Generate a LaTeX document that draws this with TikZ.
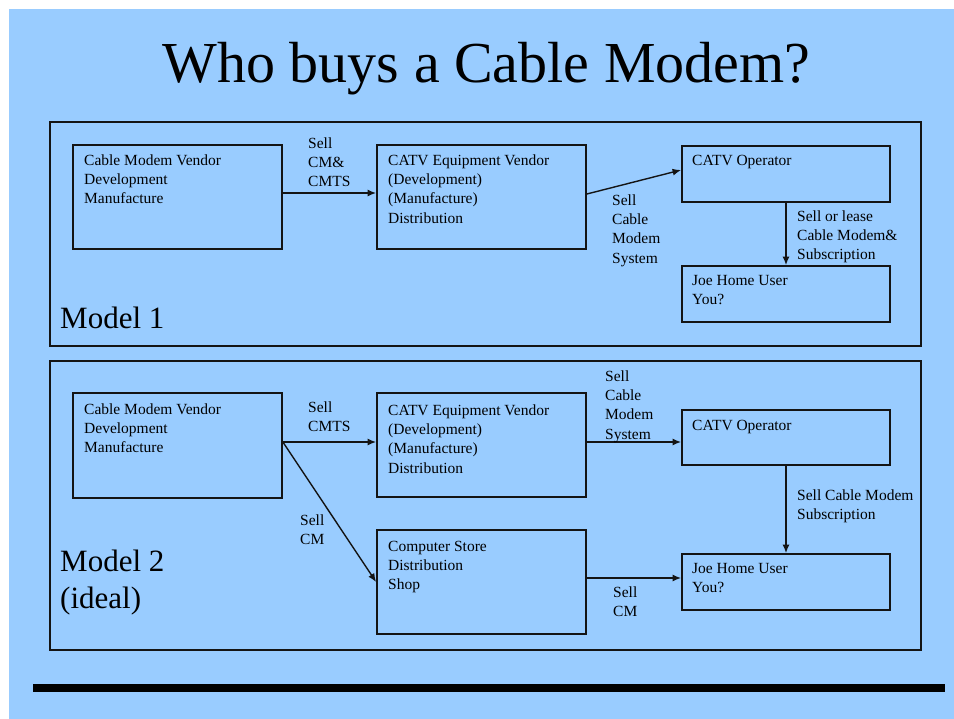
\documentclass[tikz,border=0pt]{standalone}
\usepackage{fontspec}
\setmainfont{Liberation Serif}
\usetikzlibrary{arrows.meta}
\definecolor{bgblue}{RGB}{153,204,255}
\definecolor{ink}{RGB}{20,20,20}
\begin{document}
\begin{tikzpicture}[x=1pt,y=-1pt,
  outerbox/.style={draw=ink,line width=1.8pt,inner sep=0pt},
  stepbox/.style={draw=ink,line width=1.8pt,inner sep=0pt},
  txt/.style={anchor=north west,inner sep=0pt,align=left,text=black,
    font=\fontsize{15.5}{19.3}\selectfont},
  conn/.style={draw=ink,line width=1.4pt,-{Latex[length=8.5pt,width=7pt]}},
  big/.style={inner sep=0pt,text=black,font=\fontsize{31}{37}\selectfont}]
\useasboundingbox (0,0) rectangle (954,719);
\fill[white] (0,0) rectangle (954,719);
\fill[bgblue] (9,9) rectangle (954,719);
% title
\node[anchor=base,inner sep=0pt,font=\fontsize{58}{64}\selectfont] (title) at (486.5,83) {Who buys a Cable Modem?};
% outer boxes
\node[outerbox,minimum width=871pt,minimum height=224pt] (m1) at (485.5,234) {};
\node[outerbox,minimum width=871pt,minimum height=289pt] (m2) at (485.5,505.5) {};
\node[big,anchor=base west] (m1lbl) at (60,329) {Model 1};
\node[big,anchor=base west,align=left] (m2lbl) at (60,608) {Model 2\\(ideal)};
% Model 1 boxes
\node[stepbox,minimum width=209pt,minimum height=104pt] (cmv1) at (177.5,197) {};
\node[stepbox,minimum width=209pt,minimum height=104pt] (ev1) at (481.5,197) {};
\node[stepbox,minimum width=208pt,minimum height=56pt] (op1) at (786,174) {};
\node[stepbox,minimum width=208pt,minimum height=56pt] (joe1) at (786,294) {};
% Model 2 boxes
\node[stepbox,minimum width=209pt,minimum height=105pt] (cmv2) at (177.5,445.5) {};
\node[stepbox,minimum width=209pt,minimum height=104pt] (ev2) at (481.5,445) {};
\node[stepbox,minimum width=208pt,minimum height=55pt] (op2) at (786,437.5) {};
\node[stepbox,minimum width=208pt,minimum height=56pt] (joe2) at (786,582) {};
\node[stepbox,minimum width=209pt,minimum height=104pt] (store) at (481.5,582) {};
% box texts
\node[txt] (tcmv1) at (84,165-13.5) {\strut Cable Modem Vendor\\Development\\Manufacture};
\node[txt] (tev1) at (388,165-13.5) {\strut CATV Equipment Vendor\\(Development)\\(Manufacture)\\Distribution};
\node[txt] (top1) at (692,165-13.5) {\strut CATV Operator};
\node[txt] (tjoe1) at (692,285-13.5) {\strut Joe Home User\\You?};
\node[txt] (tcmv2) at (84,414-13.5) {\strut Cable Modem Vendor\\Development\\Manufacture};
\node[txt] (tev2) at (388,415-13.5) {\strut CATV Equipment Vendor\\(Development)\\(Manufacture)\\Distribution};
\node[txt] (top2) at (692,430-13.5) {\strut CATV Operator};
\node[txt] (tjoe2) at (692,573-13.5) {\strut Joe Home User\\You?};
\node[txt] (tstore) at (388,551-13.5) {\strut Computer Store\\Distribution\\Shop};
% connectors Model 1
\draw[conn] ([yshift=4pt]cmv1.east) -- ([yshift=4pt]ev1.west);
\draw[conn] ([yshift=3pt]ev1.east) -- ([yshift=4pt]op1.west);
\draw[conn] (op1.south) -- (joe1.north);
% connectors Model 2
\draw[conn] ([yshift=3.5pt]cmv2.east) -- ([yshift=3.5pt]cmv2.east -| ev2.west);
\draw[conn] ([yshift=3.5pt]cmv2.east) -- (store.west);
\draw[conn] ([yshift=3pt]ev2.east) -- ([yshift=3pt]ev2.east -| op2.west);
\draw[conn] (op2.south) -- (joe2.north);
\draw[conn] ([yshift=4pt]store.east) -- ([yshift=4pt]joe2.west);
% connector labels
\node[txt] (l1) at (308,148-13.5) {\strut Sell\\CM\&\\CMTS};
\node[txt] (l2) at (612,205-13.5) {\strut Sell\\Cable\\Modem\\System};
\node[txt] (l3) at (797,221-13.5) {\strut Sell or lease\\Cable Modem\&\\Subscription};
\node[txt] (l4) at (308,412-13.5) {\strut Sell\\CMTS};
\node[txt] (l5) at (300,525-13.5) {\strut Sell\\CM};
\node[txt] (l6) at (605,381-13.5) {\strut Sell\\Cable\\Modem\\System};
\node[txt] (l7) at (797,500-13.5) {\strut Sell Cable Modem\\Subscription};
\node[txt] (l8) at (613,597-13.5) {\strut Sell\\CM};
% bottom bar
\fill[black] (33,684) rectangle (945,692);
\end{tikzpicture}
\end{document}
